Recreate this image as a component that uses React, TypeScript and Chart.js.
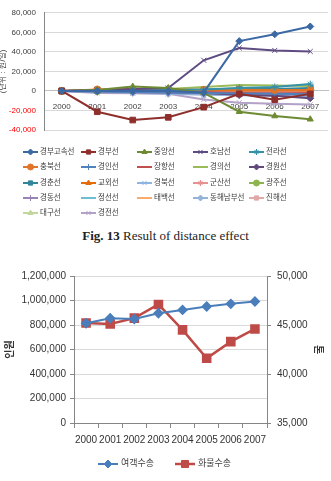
import React, { useEffect, useRef } from 'react';
import { Chart, registerables } from 'chart.js';
import { drawPoint } from 'chart.js/helpers';

Chart.register(...registerables);

// ---------- Data: top chart (distance effect) ----------
const years = ['2000', '2001', '2002', '2003', '2004', '2005', '2006', '2007'];
const topTicksLabel = '(단위 : 원/일)';

const lineNames = [
  '경부고속선', '경부선', '중앙선', '호남선', '전라선',
  '충북선', '경인선', '장항선', '경의선', '경원선',
  '경춘선', '교외선', '경북선', '군산선', '광주선',
  '경동선', '정선선', '태백선', '동해남부선', '진해선',
  '대구선', '경전선',
];

const gyeongbuHsr = [0, 0, 0, 0, -1500, 51000, 58000, 66000];
const gyeongbu = [0, -21300, -29800, -27000, -16600, -3000, -9000, -3000];
const jungang = [0, 1000, 4500, 3000, -2000, -21300, -25700, -29000];
const honam = [0, 1000, 2000, 3000, 31400, 44000, 41500, 40400];
const jeolla = [0, 500, 500, 1000, 1500, 3000, 4000, 7000];
const chungbuk = [0, 1500, 1500, 1500, 1000, 1500, 1000, 1000];
const gyeongin = [0, -500, -1000, -1500, -2000, -2500, -3000, -3500];
const janghang = [0, 500, 500, 0, -1000, -2000, -2500, -2000];
const gyeongui = [0, 500, 1000, 2000, 4000, 6000, 5500, 5000];
const gyeongwon = [0, 0, -500, -1000, -2000, -4000, -5000, -7500];
const gyeongchun = [0, 500, 500, 1000, 1500, 2500, 2000, 3000];
const gyooe = [0, 1000, 2000, 1500, 1000, 500, 500, 500];
const gyeongbuk = [0, -500, -500, -1000, -1500, -2500, -3000, -3000];
const gunsan = [0, 0, 0, -500, -500, -1000, -1000, -1500];
const gwangju = [0, 0, 500, 500, 1000, 1000, 1500, 1500];
const gyeongdong = [0, -1000, -1500, -2000, -2500, -3000, -3500, -4000];
const jeongseon = [0, 0, 0, 500, 500, 500, 1000, 1000];
const taebaek = [0, 500, 500, 1000, 1000, 1500, 2000, 2000];
const donghaeNambu = [0, -1000, -2000, -3000, -4000, -4500, -5000, -5500];
const jinhae = [0, 500, 500, 500, 0, 0, 0, 0];
const daegu = [0, 0, 0, 0, 500, 1000, 1000, 1000];
const gyeongjeon = [0, -2000, -2500, -3000, -8800, -12000, -13000, -14000];

const topValues = [
  gyeongbuHsr, gyeongbu, jungang, honam, jeolla,
  chungbuk, gyeongin, janghang, gyeongui, gyeongwon,
  gyeongchun, gyooe, gyeongbuk, gunsan, gwangju,
  gyeongdong, jeongseon, taebaek, donghaeNambu, jinhae,
  daegu, gyeongjeon,
];

// ---------- Data: bottom chart ----------
const bottomYears = ['2000', '2001', '2002', '2003', '2004', '2005', '2006', '2007'];
const passengerName = '여객수송';
const freightName = '화물수송';
const passenger = [814000, 855000, 849000, 896000, 923000, 951000, 973000, 992000];
const freight = [45200, 45100, 45700, 47100, 44500, 41600, 43300, 44600];

// ---------- Styles ----------
const FONT = "'Liberation Sans', 'Noto Sans CJK KR', sans-serif";
const TEXT = '#404040';

const topColors = [
  '#3C69A3', '#8E2F2C', '#6E8B34', '#5E4B82', '#3591A8',
  '#E0752A', '#4F81BD', '#C0504D', '#9BBB59', '#604A7B',
  '#31869B', '#E46C0A', '#8EB4E3', '#E6918F', '#8DB44F',
  '#9983B5', '#6FBDD1', '#F9AB6B', '#95B3D7', '#E0A9A8',
  '#C3D69B', '#B3A2C7',
];
const topStyles: any[] = [
  'rectRot', 'rect', 'triangle', 'crossRot', 'star',
  'circle', 'cross', false, false, 'rectRot',
  'rect', 'triangle', 'crossRot', 'star', 'circle',
  'cross', false, false, 'rectRot', 'rect',
  'triangle', 'crossRot',
];

const LEG_X = [23, 81, 137, 193, 249];
const LEG_Y = [152, 167, 183, 198, 213];

function fmt(v: number) {
  return Math.round(v).toLocaleString('en-US');
}

function drawLegendItem(ctx: CanvasRenderingContext2D, x: number, y: number, len: number,
  color: string, style: any, radius: number, lineWidth: number, text: string, textGap: number, fontSize: number) {
  ctx.save();
  ctx.strokeStyle = color;
  ctx.fillStyle = color;
  ctx.lineWidth = lineWidth;
  ctx.beginPath();
  ctx.moveTo(x, y);
  ctx.lineTo(x + len, y);
  ctx.stroke();
  if (style) {
    ctx.lineWidth = 1;
    drawPoint(ctx, { pointStyle: style, radius, rotation: 0, borderWidth: 1 } as any, x + len / 2, y);
  }
  ctx.fillStyle = TEXT;
  ctx.font = `${fontSize}px ${FONT}`;
  ctx.textBaseline = 'middle';
  ctx.textAlign = 'left';
  ctx.fillText(text, x + len + textGap, y);
  ctx.restore();
}

const gridLegend = {
  id: 'gridLegend',
  afterDraw(chart: any) {
    const ctx = chart.ctx;
    chart.data.datasets.forEach((ds: any, i: number) => {
      const col = i % 5;
      const row = Math.floor(i / 5);
      drawLegendItem(ctx, LEG_X[col], LEG_Y[row], 15, ds.borderColor, ds.pointStyle,
        3, 2, ds.label, 2, 7.5);
    });
  },
};

const bottomLegend = {
  id: 'bottomLegend',
  afterDraw(chart: any) {
    const ctx = chart.ctx;
    const xs = [98, 175];
    const y = 202;
    chart.data.datasets.forEach((ds: any, i: number) => {
      drawLegendItem(ctx, xs[i], y, 20, ds.borderColor, ds.pointStyle,
        ds.pointRadius, ds.borderWidth, ds.label, 3, 9);
    });
  },
};

function TopChart() {
  const ref = useRef<HTMLCanvasElement>(null);
  useEffect(() => {
    const datasets = lineNames.map((name, i) => ({
      label: name,
      data: topValues[i],
      borderColor: topColors[i],
      backgroundColor: topColors[i],
      pointBackgroundColor: topColors[i],
      pointBorderColor: topColors[i],
      pointStyle: topStyles[i],
      pointRadius: topStyles[i] ? (topStyles[i] === 'rect' ? 4 : 3.5) : 0,
      pointBorderWidth: 1,
      borderWidth: 2,
      tension: 0,
    }));
    const chart = new Chart(ref.current!, {
      type: 'line',
      data: { labels: years, datasets },
      options: {
        responsive: false,
        animation: false,
        layout: { padding: { top: 12, bottom: 95, left: 0, right: 0 } },
        plugins: { legend: { display: false }, tooltip: { enabled: false } },
        scales: {
          x: {
            type: 'category',
            position: { y: 0 } as any,
            offset: true,
            grid: { display: false },
            border: { display: true, color: '#BFBFBF' },
            ticks: { font: { size: 8, family: FONT }, color: TEXT, padding: 3, autoSkip: false, maxRotation: 0 },
            afterFit: (s: any) => { s.height = 0; },
          },
          y: {
            min: -40000,
            max: 80000,
            ticks: {
              stepSize: 20000,
              padding: 8,
              font: { size: 8, family: FONT },
              color: (c: any) => (c.tick && c.tick.value < 0 ? '#FF0000' : TEXT),
              callback: (v: any) => fmt(Number(v)),
            },
            grid: { color: '#D9D9D9', drawTicks: false },
            border: { display: true, color: '#868686' },
            title: { display: true, text: topTicksLabel, font: { size: 8, family: FONT }, color: TEXT, padding: { top: -2, bottom: 0 } },
            afterFit: (s: any) => { s.width = 44; },
          },
        },
      },
      plugins: [gridLegend],
    });
    return () => chart.destroy();
  }, []);
  return <canvas ref={ref} width={333} height={225}
    style={{ position: 'absolute', left: 0, top: 0, width: 333, height: 225 }} />;
}

function BottomChart() {
  const ref = useRef<HTMLCanvasElement>(null);
  useEffect(() => {
    const chart = new Chart(ref.current!, {
      type: 'line',
      data: {
        labels: bottomYears,
        datasets: [
          {
            label: passengerName,
            data: passenger,
            yAxisID: 'y',
            borderColor: '#4A7EBB',
            backgroundColor: '#4A7EBB',
            pointBackgroundColor: '#4A7EBB',
            pointBorderColor: '#4A7EBB',
            pointStyle: 'rectRot',
            pointRadius: 4,
            borderWidth: 2,
            tension: 0,
          },
          {
            label: freightName,
            data: freight,
            yAxisID: 'y1',
            borderColor: '#BE4B48',
            backgroundColor: '#BE4B48',
            pointBackgroundColor: '#BE4B48',
            pointBorderColor: '#BE4B48',
            pointStyle: 'rect',
            pointRadius: 5,
            borderWidth: 2.5,
            tension: 0,
          },
        ],
      },
      options: {
        responsive: false,
        animation: false,
        layout: { padding: { top: 14, bottom: 34, left: 0, right: 0 } },
        plugins: { legend: { display: false }, tooltip: { enabled: false } },
        scales: {
          x: {
            type: 'category',
            offset: true,
            grid: { offset: true, drawOnChartArea: false, drawTicks: true, tickLength: 5, color: '#868686' },
            border: { display: true, color: '#868686' },
            ticks: { font: { size: 10, family: FONT }, color: '#333333', padding: 6, autoSkip: false, maxRotation: 0 },
            afterFit: (s: any) => { s.height = 24; },
          },
          y: {
            position: 'left',
            min: 0,
            max: 1200000,
            ticks: {
              stepSize: 200000,
              padding: 4,
              font: { size: 10, family: FONT },
              color: '#333333',
              callback: (v: any) => fmt(Number(v)),
            },
            grid: { color: '#D9D9D9', tickLength: 4, tickColor: '#868686' },
            border: { display: true, color: '#868686' },
            title: { display: true, text: '인원', font: { size: 10, family: FONT, weight: 'bold' }, color: '#333333', padding: { top: 4, bottom: 0 } },
            afterFit: (s: any) => { s.width = 74; },
          },
          y1: {
            position: 'right',
            min: 35000,
            max: 50000,
            ticks: {
              stepSize: 5000,
              padding: 6,
              font: { size: 10, family: FONT },
              color: '#333333',
              callback: (v: any) => fmt(Number(v)),
            },
            grid: { drawOnChartArea: false, tickLength: 4, color: '#868686' },
            border: { display: true, color: '#868686' },
            title: { display: true, text: '톤', font: { size: 10, family: FONT, weight: 'bold' }, color: '#333333', padding: { top: 7, bottom: 0 } },
            afterFit: (s: any) => { s.width = 64; },
          },
        },
      },
      plugins: [bottomLegend],
    });
    return () => chart.destroy();
  }, []);
  return <canvas ref={ref} width={331} height={219}
    style={{ position: 'absolute', left: 0, top: 262, width: 331, height: 219 }} />;
}

export default function App() {
  return (
    <div style={{ position: 'fixed', left: 0, top: 0, width: 331, height: 481, overflow: 'hidden', background: '#ffffff' }}>
      <TopChart />
      <div style={{
        position: 'absolute', left: 0, top: 228, width: 331, textAlign: 'center',
        fontFamily: "'Liberation Serif', serif", fontSize: 13, lineHeight: '15px', color: '#222',
      }}>
        <b>Fig. 13</b> Result of distance effect
      </div>
      <BottomChart />
    </div>
  );
}
